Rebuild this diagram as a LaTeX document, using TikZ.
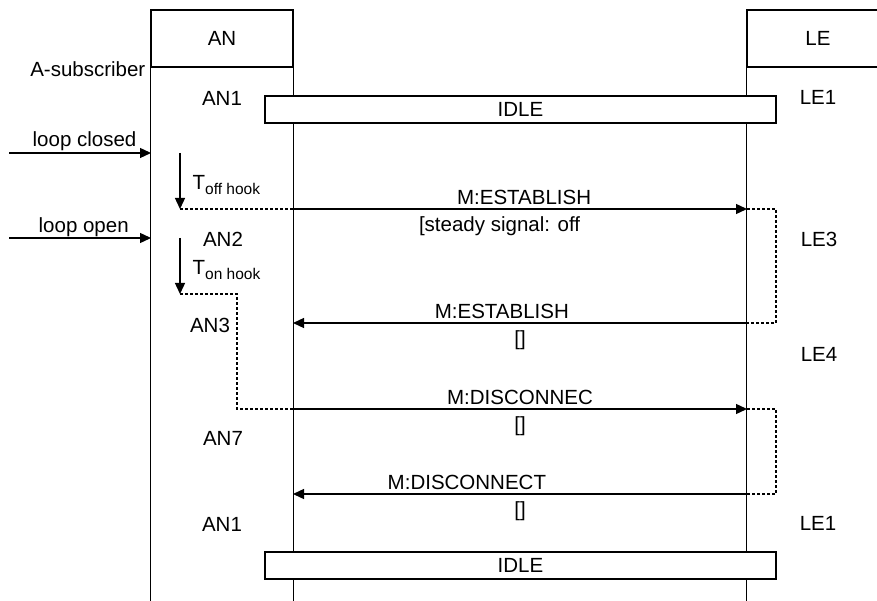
\documentclass[tikz,border=0pt]{standalone}
\usepackage{fontspec}
\setmainfont{Liberation Sans}
\usetikzlibrary{arrows.meta,positioning,calc}
\newcommand{\sub}[1]{\raisebox{-5pt}{\fontsize{15.5}{17}\selectfont #1}}

\begin{document}
\begin{tikzpicture}[x=1pt,y=-1pt,line width=1.35pt,
  every node/.style={font=\fontsize{20.5}{24}\selectfont,inner sep=0pt},
  head/.style={draw,minimum width=142pt,minimum height=57pt},
  idle/.style={draw,fill=white,minimum width=511pt,minimum height=27pt},
  msg/.style={-{Triangle[length=11pt,width=10pt]}},
  dsh/.style={line width=1.2pt,dash pattern=on 3pt off 2pt},
  lbl/.style={above=3.5pt},
  arg/.style={below=7pt}]
\useasboundingbox (0,0) rectangle (877,601);
\coordinate (bot) at (0,601);
% lifelines
\node[head] (an) at (222,38.5) {AN};
\node[head] (le) at (818,38.5) {LE};
\draw (an.south west) -- (an.south west |- bot);
\draw (an.south east) -- (an.south east |- bot);
\draw (le.south west) -- (le.south west |- bot);
\node[anchor=base east] (sub) at (146,76.5) {A-subscriber};
% states
\node[anchor=base] (an1) at (222,106) {AN1};
\node[anchor=base] (an2) at (223,247) {AN2};
\node[anchor=base] (an3) at (210,332) {AN3};
\node[anchor=base] (an7) at (223,445) {AN7};
\node[anchor=base] (an1b) at (222,531) {AN1};
\node[anchor=base] (le1) at (818,105) {LE1};
\node[anchor=base] (le3) at (819,247) {LE3};
\node[anchor=base] (le4) at (819,361) {LE4};
\node[anchor=base] (le1b) at (818,530) {LE1};
\node[idle] (idle1) at (520.5,109.5) {IDLE};
\node[idle] (idle2) at (520.5,565.5) {IDLE};
% subscriber events
\coordinate (lc0) at (9,153);
\coordinate (lc1) at (151,153);
\coordinate (lo0) at (9,238);
\coordinate (lo1) at (151,238);
\draw[msg] (lc0) -- (lc1);
\draw[msg] (lo0) -- (lo1);
\node[anchor=base west] (lcl) at (32,147) {loop closed};
\node[anchor=base west] (lol) at (38,233) {loop open};
% timers
\coordinate (t1s) at (180,153);
\coordinate (t1e) at (180,209);
\coordinate (t2s) at (180,238);
\coordinate (t2e) at (180,294);
\draw[msg] (t1s) -- (t1e);
\draw[msg] (t2s) -- (t2e);
\node[anchor=base west] (t1) at (192,190) {T\sub{off hook}};
\node[anchor=base west] (t2) at (192,275) {T\sub{on hook}};
% messages
\coordinate (m1a) at (293,209);
\coordinate (m1b) at (747,209);
\coordinate (m2a) at (747,323);
\coordinate (m2b) at (293,323);
\coordinate (m3a) at (293,409);
\coordinate (m3b) at (747,409);
\coordinate (m4a) at (747,494);
\coordinate (m4b) at (293,494);
\draw[dsh] (t1e) -- (m1a);
\draw[msg] (m1a) -- node[lbl,pos=0.509]{M:ESTABLISH} node[arg,pos=0.455]{[steady signal: off} (m1b);
\draw[dsh] (m1b) -- ++(29,0) |- (m2a);
\draw[msg] (m2a) -- node[lbl,pos=0.54]{M:ESTABLISH} node[arg]{[]} (m2b);
\draw[dsh] (t2e) -- ++(57,0) |- (m3a);
\draw[msg] (m3a) -- node[lbl]{M:DISCONNEC} node[arg]{[]} (m3b);
\draw[dsh] (m3b) -- ++(29,0) |- (m4a);
\draw[msg] (m4a) -- node[lbl,pos=0.617]{M:DISCONNECT} node[arg]{[]} (m4b);
\end{tikzpicture}
\end{document}
